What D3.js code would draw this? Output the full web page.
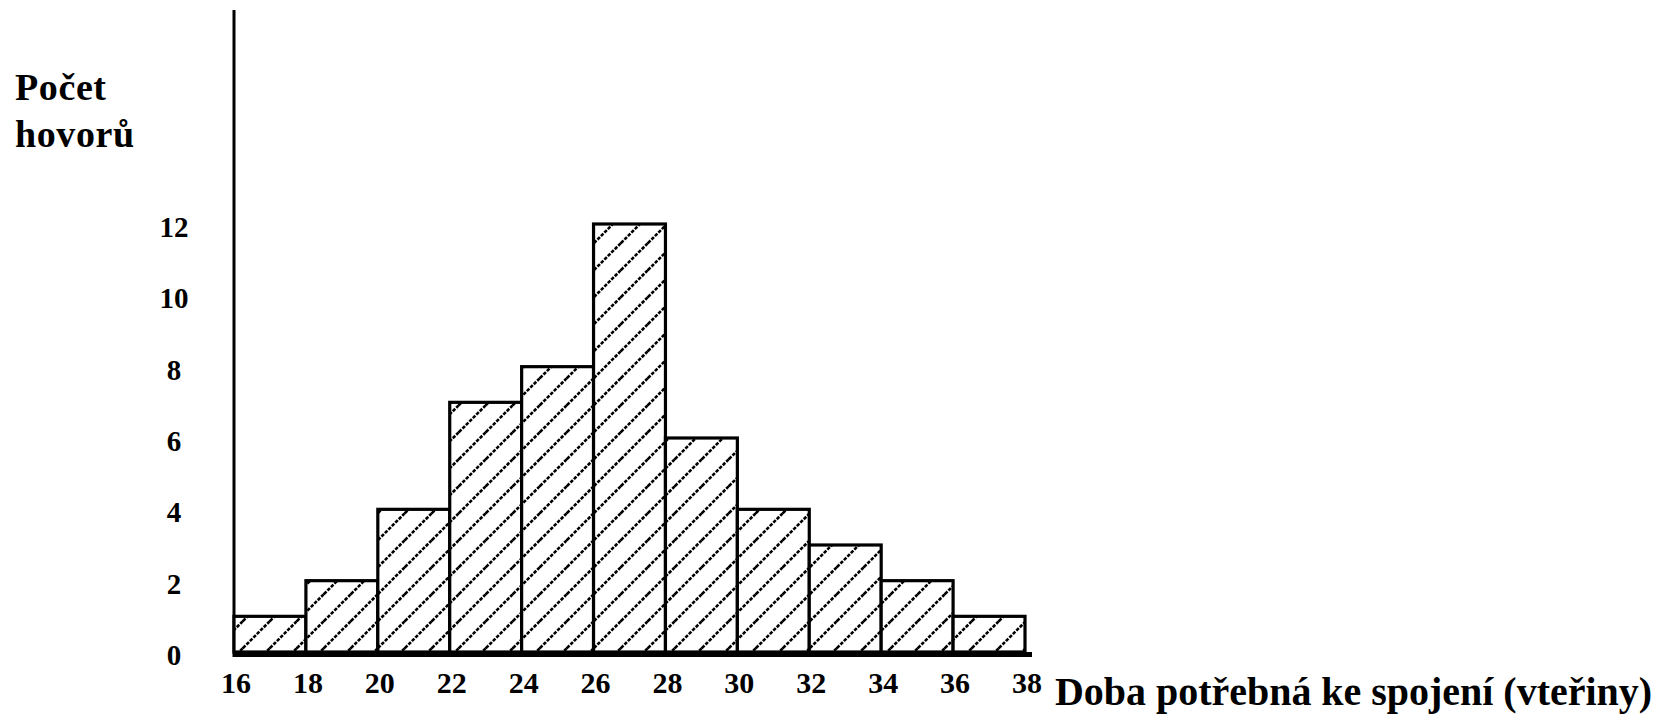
<!DOCTYPE html>
<html>
<head>
<meta charset="utf-8">
<script src="https://cdn.jsdelivr.net/npm/d3@7"></script>
<style>
  html, body { margin: 0; padding: 0; background: #fff; }
  svg text { font-family: "Liberation Serif", "Times New Roman", serif; font-weight: bold; fill: #000; }
</style>
</head>
<body>
<svg id="chart" width="1671" height="718"></svg>
<script>
// ---- data ----
const binStarts = [16, 18, 20, 22, 24, 26, 28, 30, 32, 34, 36];
const binWidth = 2;
const counts = [1, 2, 4, 7, 8, 12, 6, 4, 3, 2, 1];
const xTicks = [16, 18, 20, 22, 24, 26, 28, 30, 32, 34, 36, 38];
const yTicks = [0, 2, 4, 6, 8, 10, 12];
const yTitle = ["Počet", "hovorů"];
const xTitle = "Doba potřebná ke spojení (vteřiny)";

// ---- layout ----
const svg = d3.select("#chart");
const x = d3.scaleLinear().domain([16, 38]).range([234, 1025]);
const y = d3.scaleLinear().domain([0, 12]).range([652, 224]);

// hatch pattern
const defs = svg.append("defs");
const pat = defs.append("pattern")
  .attr("id", "hatch")
  .attr("patternUnits", "userSpaceOnUse")
  .attr("width", 27).attr("height", 27);
pat.append("rect").attr("width", 27).attr("height", 27).attr("fill", "#fff");
pat.append("path")
  .attr("d", "M0,27 L27,0 M-4,4 L4,-4 M23,31 L31,23")
  .attr("stroke", "#000")
  .attr("stroke-width", 2.6)
  .attr("stroke-dasharray", "3.5,1.4")
  .attr("fill", "none");

// y axis line
svg.append("line")
  .attr("x1", x(16)).attr("x2", x(16))
  .attr("y1", 10).attr("y2", y(0) + 5)
  .attr("stroke", "#000").attr("stroke-width", 3);

// bars
svg.append("g").selectAll("rect")
  .data(binStarts.map((s, i) => ({ s, c: counts[i] })))
  .join("rect")
  .attr("x", d => x(d.s))
  .attr("y", d => y(d.c))
  .attr("width", d => x(d.s + binWidth) - x(d.s))
  .attr("height", d => y(0) - y(d.c))
  .attr("fill", "url(#hatch)")
  .attr("stroke", "#000")
  .attr("stroke-width", 3.2);

// baseline (x axis)
svg.append("line")
  .attr("x1", x(16)).attr("x2", x(38) + 7)
  .attr("y1", y(0) + 2.5).attr("y2", y(0) + 2.5)
  .attr("stroke", "#000").attr("stroke-width", 5);

// y tick labels
svg.append("g").selectAll("text")
  .data(yTicks)
  .join("text")
  .attr("x", 174)
  .attr("y", d => y(d) + 3)
  .attr("dy", "0.35em")
  .attr("text-anchor", "middle")
  .attr("font-size", 29)
  .text(d => d);

// x tick labels
svg.append("g").selectAll("text")
  .data(xTicks)
  .join("text")
  .attr("x", d => x(d) + 2)
  .attr("y", 693)
  .attr("text-anchor", "middle")
  .attr("font-size", 30)
  .text(d => d);

// y title
svg.append("g").selectAll("text")
  .data(yTitle)
  .join("text")
  .attr("x", 15)
  .attr("y", (d, i) => 100 + i * 47)
  .attr("font-size", 38)
  .attr("letter-spacing", 0.6)
  .text(d => d);

// x title
const xt = svg.append("text")
  .attr("x", 1055)
  .attr("y", 705)
  .attr("font-size", 40)
  .text(xTitle);
const w = xt.node().getComputedTextLength();
if (w > 0) xt.attr("textLength", 597).attr("lengthAdjust", "spacingAndGlyphs");
</script>
</body>
</html>
